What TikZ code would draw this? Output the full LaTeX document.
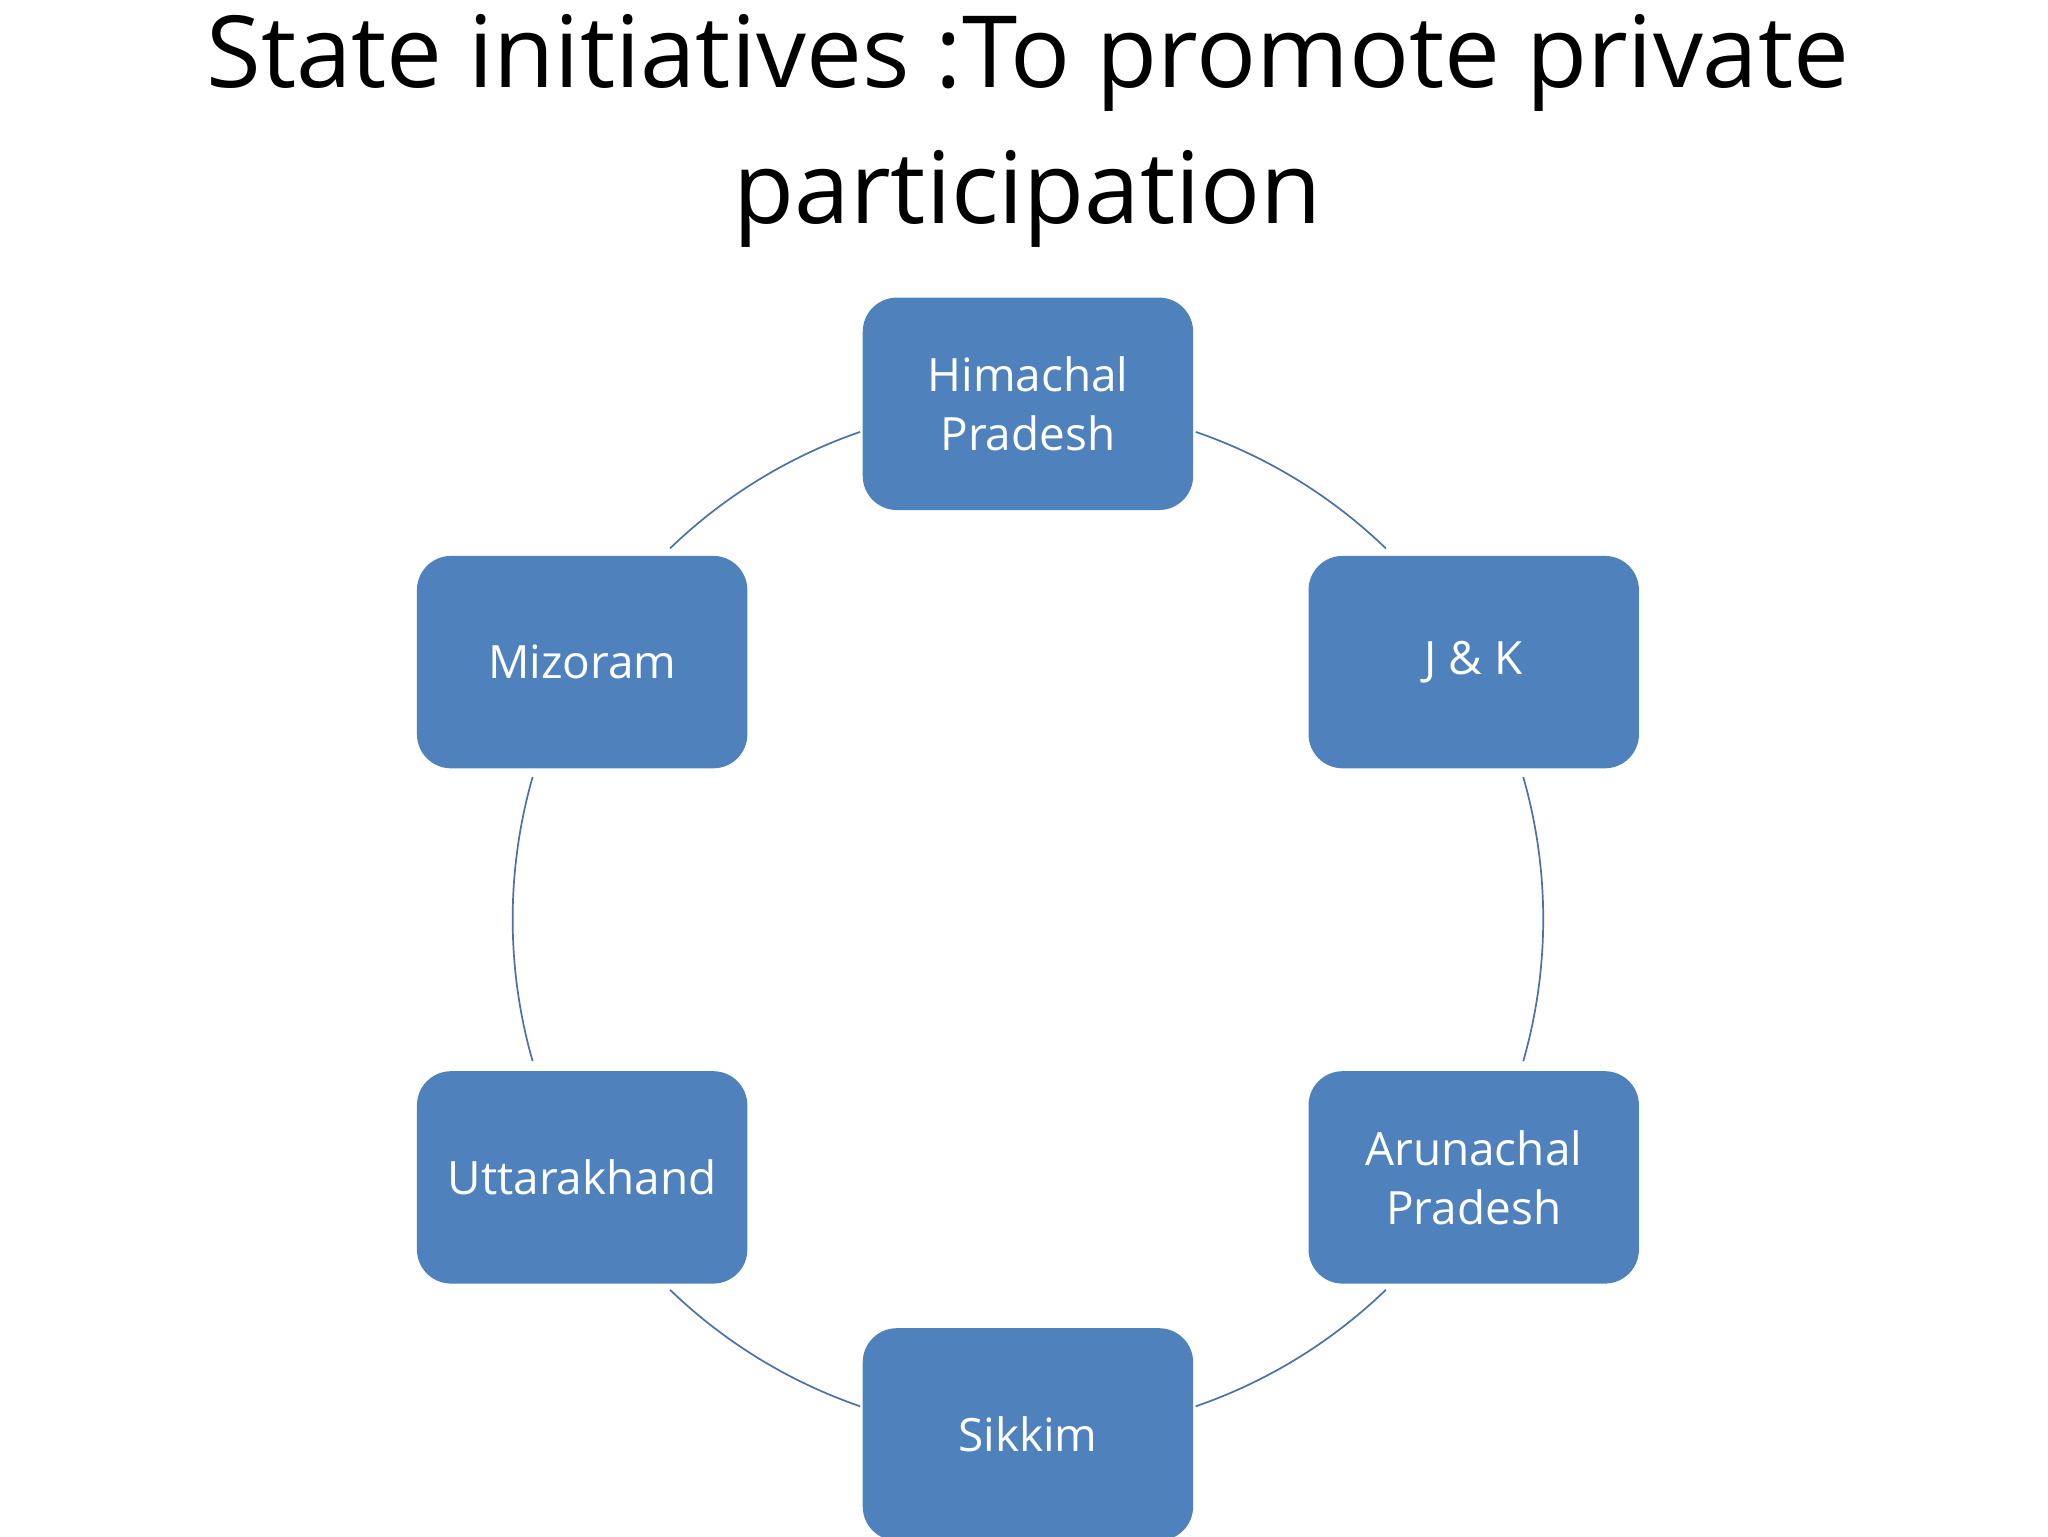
\documentclass[tikz,border=0pt]{standalone}
\usepackage{fontspec}
\setmainfont{Open Sans}
\definecolor{boxblue}{HTML}{4F81BD}
\definecolor{lineblue}{HTML}{4A72A8}
\begin{document}
\begin{tikzpicture}[x=1pt,y=1pt,
  statebox/.style={fill=boxblue,draw=none,rounded corners=26pt,minimum width=252pt,minimum height=162pt,text=white,font=\fontsize{35}{45}\selectfont,align=center,inner sep=0pt},
  ring/.style={draw=lineblue,line width=1.3pt}]
\useasboundingbox (0,0) rectangle (1562,1172);
\node[font=\fontsize{76}{104}\selectfont,align=center] (title) at (784,1072) {State initiatives :To promote private\\participation};
\coordinate (c) at (784,471);
\foreach \a/\b in {109/134,164/196,226/251,289/314,344/376,46/71}
  \draw[ring] (c) ++(\a:393) arc[start angle=\a,end angle=\b,radius=393];
\node[statebox] (hp) at (784,864) {Himachal\\Pradesh};
\node[statebox] (jk) at (1124,667) {J \& K};
\node[statebox] (mz) at (444,667) {Mizoram};
\node[statebox] (ap) at (1124,274) {Arunachal\\Pradesh};
\node[statebox] (uk) at (444,274) {Uttarakhand};
\node[statebox] (sk) at (784,78) {Sikkim};
\end{tikzpicture}
\end{document}
